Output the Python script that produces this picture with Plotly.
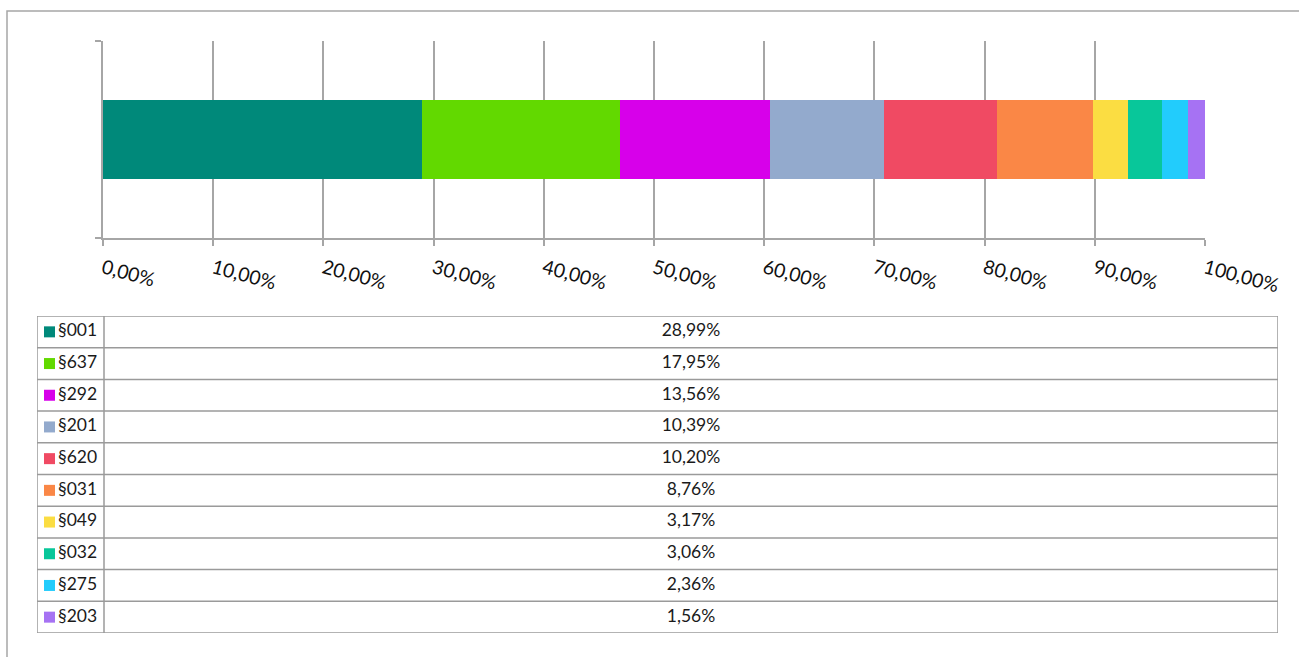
import plotly.graph_objects as go

W, H = 1299, 657

categories = ["§001", "§637", "§292", "§201", "§620", "§031", "§049", "§032", "§275", "§203"]
values = [28.99, 17.95, 13.56, 10.39, 10.20, 8.76, 3.17, 3.06, 2.36, 1.56]
colors = ["#00897a", "#62d900", "#d700ea", "#93aacd", "#f04a63",
          "#fa8746", "#fbdd42", "#08c79a", "#22ccfc", "#a672f3"]
tick_vals = [0, 10, 20, 30, 40, 50, 60, 70, 80, 90, 100]
tick_text = [f"{v:.2f}".replace(".", ",") + "%" for v in tick_vals]

GRID = "#a6a6a6"
FONT = "Lato, Open Sans, sans-serif"

def px_x(p):
    return p / W

def px_y(p):
    return 1 - p / H

fig = go.Figure()

for cat, val, col in zip(categories, values, colors):
    fig.add_trace(go.Bar(
        x=[val], y=[0], orientation="h", name=cat,
        marker=dict(color=col, line=dict(width=0)),
        showlegend=False, hoverinfo="skip",
        xaxis="x", yaxis="y",
    ))

n = len(categories)
rows = list(range(n))
div = (104 - 37) / (1278 - 37)

fig.add_trace(go.Scatter(
    x=[(49.5 - 37) / (1278 - 37)] * n, y=[r + 0.5 for r in rows],
    mode="markers", marker=dict(symbol="square", size=11, color=colors, line=dict(width=0)),
    xaxis="x2", yaxis="y2", showlegend=False, hoverinfo="skip",
))
fig.add_trace(go.Scatter(
    x=[(58 - 37) / (1278 - 37)] * n, y=[r + 0.5 for r in rows],
    mode="text", text=categories, textposition="middle right",
    textfont=dict(family=FONT, size=17.5, color="#1a1a1a"),
    xaxis="x2", yaxis="y2", showlegend=False, hoverinfo="skip",
))
pct_text = [f"{v:.2f}".replace(".", ",") + "%" for v in values]
fig.add_trace(go.Scatter(
    x=[(div + 1) / 2] * n, y=[r + 0.5 for r in rows],
    mode="text", text=pct_text, textposition="middle center",
    textfont=dict(family=FONT, size=17.5, color="#1a1a1a"),
    xaxis="x2", yaxis="y2", showlegend=False, hoverinfo="skip",
))

shapes = []
shapes.append(dict(type="rect", xref="paper", yref="paper",
                   x0=px_x(7), x1=1.02, y0=-0.02, y1=px_y(11),
                   line=dict(color=GRID, width=1.5), layer="below"))
for r in range(n + 1):
    shapes.append(dict(type="line", xref="x2", yref="y2", x0=0, x1=1, y0=r, y1=r,
                       line=dict(color="#9a9a9a", width=1.5)))
for xv in [0, div, 1]:
    shapes.append(dict(type="line", xref="x2", yref="y2", x0=xv, x1=xv, y0=0, y1=n,
                       line=dict(color="#9a9a9a", width=1.5)))

fig.update_layout(
    width=W, height=H, autosize=False,
    margin=dict(l=0, r=0, t=0, b=0, pad=0),
    paper_bgcolor="white", plot_bgcolor="white",
    separators=",.",
    barmode="stack", bargap=0.6,
    hovermode=False,
    shapes=shapes,
    xaxis=dict(
        domain=[px_x(103), px_x(1205)], anchor="y", automargin=False,
        range=[0, 100], tickvals=tick_vals, ticktext=tick_text,
        showgrid=True, gridcolor=GRID, gridwidth=1.5,
        showline=True, linecolor=GRID, linewidth=1.5,
        ticks="outside", ticklen=6, tickcolor=GRID, tickwidth=1.5,
        tickangle=15, zeroline=False, ticklabelstandoff=4,
        tickfont=dict(family=FONT, size=19.5, color="#111111"),
        fixedrange=True,
    ),
    yaxis=dict(
        domain=[px_y(238), px_y(41)], anchor="x", automargin=False,
        range=[-0.5, 0.5], tickvals=[-0.5, 0.5], showticklabels=False,
        showgrid=False, zeroline=False,
        showline=True, linecolor=GRID, linewidth=1.5,
        ticks="outside", ticklen=6, tickcolor=GRID, tickwidth=1.5,
        fixedrange=True,
    ),
    xaxis2=dict(
        domain=[px_x(37), px_x(1278)], anchor="y2", range=[0, 1], automargin=False,
        visible=False, fixedrange=True,
    ),
    yaxis2=dict(
        domain=[px_y(633), px_y(316)], anchor="x2", range=[n, 0], automargin=False,
        visible=False, fixedrange=True,
    ),
)

fig.write_html(
    "out.html",
    config=dict(displayModeBar=False, responsive=False),
    post_script="document.body.style.margin='0';document.body.style.overflow='hidden';",
)
